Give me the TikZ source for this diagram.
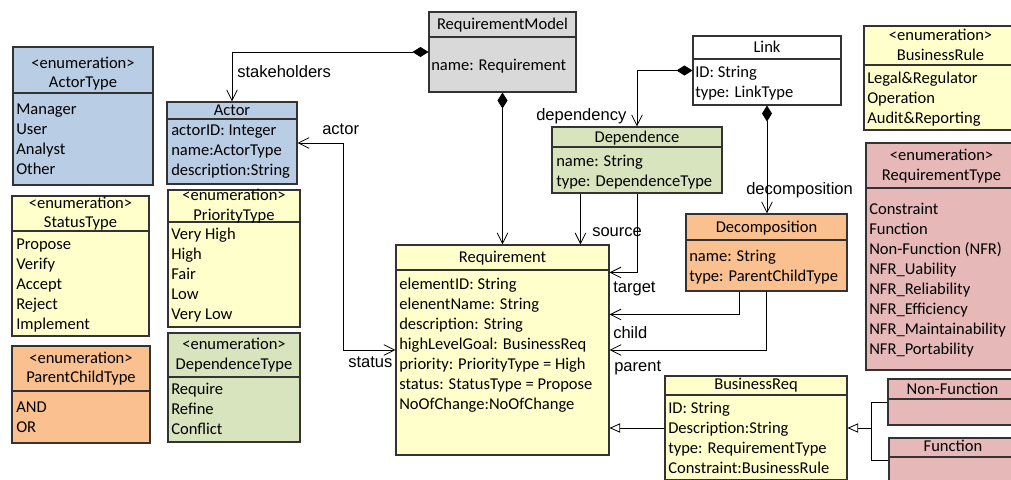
\documentclass[tikz,border=0pt]{standalone}
\usepackage{fontspec}
\setmainfont{Carlito}
\newfontfamily\labelfont{Liberation Sans}
\usetikzlibrary{positioning, arrows.meta, fit, calc}

\definecolor{actorblue}{HTML}{B9CDE5}
\definecolor{enumyellow}{HTML}{FFFFCC}
\definecolor{decorange}{HTML}{FAC090}
\definecolor{depgreen}{HTML}{D7E4BD}
\definecolor{typepink}{HTML}{E6B9B8}
\definecolor{modelgray}{HTML}{D9D9D9}

\begin{document}
\begin{tikzpicture}[
  x=0.75pt, y=-0.75pt,
  font=\fontsize{12.4pt}{15pt}\selectfont,
  % Box Styles
  classbox/.style={rectangle, draw=black!80, line width=0.8pt, inner sep=0pt},
  divider/.style={draw=black!80, line width=0.8pt},
  title/.style={anchor=base, inner sep=0pt},
  item/.style={anchor=base west, inner sep=0pt},
  % Arrow Styles
  assoc/.style={-{Straight Barb[length=8pt, width=8pt]}, line width=0.6pt},
  both/.style={{Straight Barb[length=8pt, width=8pt]}-{Straight Barb[length=8pt, width=8pt]}, line width=0.6pt},
  comp/.style={{Diamond[length=12pt, width=7.5pt]}-{Straight Barb[length=8pt, width=8pt]}, line width=0.6pt},
  gen/.style={-{Triangle[open, length=8pt, width=7pt]}, line width=0.6pt},
  role/.style={anchor=base west, inner sep=0pt, font=\labelfont\fontsize{12.4pt}{15pt}\selectfont}
]
\useasboundingbox (0,0) rectangle (1011,479);
\clip (0,0) rectangle (1011,479);
\fill[white] (0,0) rectangle (1011,479);

% Enumerations on the left
\node[classbox, fill=actorblue, fit={(13,47) (153,185)}] (ActorType) {};
\draw[divider] (ActorType.west |- 0,93) -- (ActorType.east |- 0,93);
\node[title] (ActorType-s) at (ActorType.north |- 0,68) {<enumeration>};
\node[title] (ActorType-n) at (ActorType.north |- 0,87) {ActorType};
\foreach \t [count=\i from 0] in {Manager, User, Analyst, Other}
  \node[item] (ActorType-\i) at (16,114+20*\i) {\t};

\node[classbox, fill=enumyellow, fit={(12,196) (149,336)}] (StatusType) {};
\draw[divider] (StatusType.west |- 0,231) -- (StatusType.east |- 0,231);
\node[title] (StatusType-s) at (StatusType.north |- 0,208) {<enumeration>};
\node[title] (StatusType-n) at (StatusType.north |- 0,227) {StatusType};
\foreach \t [count=\i from 0] in {Propose, Verify, Accept, Reject, Implement}
  \node[item] (StatusType-\i) at (16,249+20*\i) {\t};

\node[classbox, fill=decorange, fit={(12,346) (150,443)}] (ParentChildType) {};
\draw[divider] (ParentChildType.west |- 0,391) -- (ParentChildType.east |- 0,391);
\node[title] (ParentChildType-s) at (ParentChildType.north |- 0,363) {<enumeration>};
\node[title] (ParentChildType-n) at (ParentChildType.north |- 0,382) {ParentChildType};
\foreach \t [count=\i from 0] in {AND, OR}
  \node[item] (ParentChildType-\i) at (16,412+20*\i) {\t};

\node[classbox, fill=actorblue, fit={(167,102) (297,184)}] (Actor) {};
\draw[divider] (Actor.west |- 0,119) -- (Actor.east |- 0,119);
\node[title] (Actor-n) at (Actor.north |- 0,115) {Actor};
\foreach \t [count=\i from 0] in {actorID: Integer, name:ActorType, description:String}
  \node[item] (Actor-\i) at (171,135+20*\i) {\t};

\node[classbox, fill=enumyellow, fit={(168,190) (300,327)}] (PriorityType) {};
\draw[divider] (PriorityType.west |- 0,222) -- (PriorityType.east |- 0,222);
\node[title] (PriorityType-s) at (PriorityType.north |- 0,200) {<enumeration>};
\node[title] (PriorityType-n) at (PriorityType.north |- 0,220) {PriorityType};
\foreach \t [count=\i from 0] in {Very High, High, Fair, Low, Very Low}
  \node[item] (PriorityType-\i) at (171,239+20*\i) {\t};

\node[classbox, fill=depgreen, fit={(168,333) (300,442)}] (DependenceType) {};
\draw[divider] (DependenceType.west |- 0,377) -- (DependenceType.east |- 0,377);
\node[title] (DependenceType-s) at (DependenceType.north |- 0,349) {<enumeration>};
\node[title] (DependenceType-n) at (DependenceType.north |- 0,369) {DependenceType};
\foreach \t [count=\i from 0] in {Require, Refine, Conflict}
  \node[item] (DependenceType-\i) at (171,394+20*\i) {\t};

% Model classes
\node[classbox, fill=modelgray, fit={(429,12) (576,92)}] (RequirementModel) {};
\draw[divider] (RequirementModel.west |- 0,37) -- (RequirementModel.east |- 0,37);
\node[title] (RequirementModel-n) at (RequirementModel.north |- 0,29) {RequirementModel};
\node[item] (RequirementModel-0) at (431,70) {name: Requirement};

\node[classbox, fill=white, fit={(693,36) (841,105)}] (Link) {};
\draw[divider] (Link.west |- 0,59) -- (Link.east |- 0,59);
\node[title] (Link-n) at (Link.north |- 0,52) {Link};
\foreach \t [count=\i from 0] in {ID: String, type: LinkType}
  \node[item] (Link-\i) at (695,77+20*\i) {\t};

\node[classbox, fill=depgreen, fit={(552,127) (722,193)}] (Dependence) {};
\draw[divider] (Dependence.west |- 0,147) -- (Dependence.east |- 0,147);
\node[title] (Dependence-n) at (Dependence.north |- 0,142) {Dependence};
\foreach \t [count=\i from 0] in {name: String, type: DependenceType}
  \node[item] (Dependence-\i) at (556,166+20*\i) {\t};

\node[classbox, fill=decorange, fit={(686,214) (847,291)}] (Decomposition) {};
\draw[divider] (Decomposition.west |- 0,240) -- (Decomposition.east |- 0,240);
\node[title] (Decomposition-n) at (Decomposition.north |- 0,232) {Decomposition};
\foreach \t [count=\i from 0] in {name: String, type: ParentChildType}
  \node[item] (Decomposition-\i) at (689,261+20*\i) {\t};

\node[classbox, fill=enumyellow, fit={(396,245) (609,455)}] (Requirement) {};
\draw[divider] (Requirement.west |- 0,270) -- (Requirement.east |- 0,270);
\node[title] (Requirement-n) at (Requirement.north |- 0,262.5) {Requirement};
\foreach \t [count=\i from 0] in {elementID: String, elenentName: String, description: String, highLevelGoal: BusinessReq, priority: PriorityType = High, status: StatusType = Propose, NoOfChange:NoOfChange}
  \node[item] (Requirement-\i) at (399,289+20*\i) {\t};

\node[classbox, fill=enumyellow, fit={(665,376) (847,480)}] (BusinessReq) {};
\draw[divider] (BusinessReq.west |- 0,395) -- (BusinessReq.east |- 0,395);
\node[title] (BusinessReq-n) at (BusinessReq.north |- 0,389.5) {BusinessReq};
\foreach \t [count=\i from 0] in {ID: String, Description:String, type: RequirementType, Constraint:BusinessRule}
  \node[item] (BusinessReq-\i) at (668,413+20*\i) {\t};

% Enumerations on the right
\node[classbox, fill=enumyellow, fit={(864,26) (1017,130)}] (BusinessRule) {};
\draw[divider] (BusinessRule.west |- 0,65) -- (BusinessRule.east |- 0,65);
\node[title] (BusinessRule-s) at (BusinessRule.north |- 0,40) {<enumeration>};
\node[title] (BusinessRule-n) at (BusinessRule.north |- 0,60) {BusinessRule};
\foreach \t [count=\i from 0] in {Legal\&Regulator, Operation, Audit\&Reporting}
  \node[item] (BusinessRule-\i) at (867,83+20*\i) {\t};

\node[classbox, fill=typepink, fit={(866,143) (1017,370)}] (RequirementType) {};
\draw[divider] (RequirementType.west |- 0,188) -- (RequirementType.east |- 0,188);
\node[title] (RequirementType-s) at (RequirementType.north |- 0,160) {<enumeration>};
\node[title] (RequirementType-n) at (RequirementType.north |- 0,180) {RequirementType};
\foreach \t [count=\i from 0] in {Constraint, Function, Non-Function (NFR), NFR\_Uability, NFR\_Reliability, NFR\_Efficiency, NFR\_Maintainability, NFR\_Portability}
  \node[item] (RequirementType-\i) at (869,214+20*\i) {\t};

\node[classbox, fill=typepink, fit={(888,379) (1017,425)}] (NonFunction) {};
\draw[divider] (NonFunction.west |- 0,399) -- (NonFunction.east |- 0,399);
\node[title] (NonFunction-n) at (NonFunction.north |- 0,394) {Non-Function};

\node[classbox, fill=typepink, fit={(889,438) (1017,482)}] (Function) {};
\draw[divider] (Function.west |- 0,457) -- (Function.east |- 0,457);
\node[title] (Function-n) at (Function.north |- 0,451) {Function};

% Connectors
\draw[comp] (RequirementModel.west) -| (Actor.north);
\draw[comp] (RequirementModel.south) -- (Requirement.north);
\draw[both] (Actor.east) -- ++(46,0) |- (Requirement.west);
\draw[comp] (Link.west) -| (Dependence.north);
\draw[comp] (Link.south) -- (Link.south |- Decomposition.north);
\coordinate (srcTop) at ($(Dependence.south west)+(29,0)$);
\draw[assoc] (srcTop) -- (srcTop |- Requirement.north);
\draw[assoc] (Dependence.south) |- ($(Requirement.north east)+(0,28)$);
\draw[assoc] ($(Decomposition.south west)+(54,0)$) |- ($(Requirement.north east)+(0,70)$);
\draw[assoc] (Decomposition.south) |- (Requirement.east);
\draw[gen] (BusinessReq.west) -- (Requirement.east |- BusinessReq.west);
\coordinate (genJoin) at (871,428);
\draw[line width=0.6pt] (NonFunction.west) -| (genJoin);
\draw[line width=0.6pt] (Function.west) -| (genJoin);
\draw[gen] (genJoin) -- (BusinessReq.east);

% Role labels
\node[role] (lStake) at (237,77) {stakeholders};
\node[role] (lActor) at (322,134) {actor};
\node[role] (lStatus) at (348,367) {status};
\node[role] (lDep) at (536,120) {dependency};
\node[role] (lDecomp) at (746,194) {decomposition};
\node[role] (lSource) at (592,236) {source};
\node[role] (lTarget) at (613,292.5) {target};
\node[role] (lChild) at (613,338) {child};
\node[role] (lParent) at (614,371) {parent};
\end{tikzpicture}
\end{document}
